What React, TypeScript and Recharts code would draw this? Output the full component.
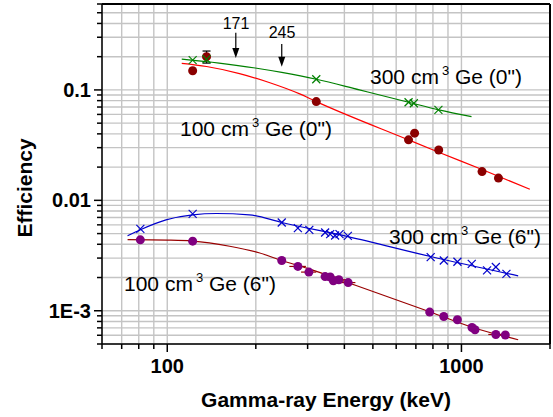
import React from 'react';
import { ComposedChart, Scatter, XAxis, YAxis, CartesianGrid, ReferenceLine, ErrorBar } from 'recharts';

// measured points
const e300at0 = [122, 136, 321, 661, 689, 835];
const eff300at0 = [0.186, 0.19, 0.125, 0.0774, 0.0758, 0.0659];

const e100at0 = [122, 136, 321, 661, 693, 837, 1175, 1336];
const eff100at0 = [0.149, 0.2, 0.0784, 0.0353, 0.0406, 0.0286, 0.0182, 0.0159];
const err100at0 = [0, 0.025, 0, 0, 0, 0, 0, 0];

const e300at6 = [81, 122, 245, 278, 304, 344, 358, 372, 385, 411, 786, 871, 969, 1084, 1222, 1309, 1422];
const eff300at6 = [0.00552, 0.00755, 0.0063, 0.0056, 0.0054, 0.00511, 0.00494, 0.0048, 0.00494, 0.00477, 0.00306, 0.00285, 0.00278, 0.00266, 0.00232, 0.00249, 0.00216];

const e100at6 = [81, 122, 245, 278, 303, 344, 358, 367, 383, 412, 780, 871, 969, 1086, 1112, 1309, 1410];
const eff100at6 = [0.00439, 0.00427, 0.00285, 0.00252, 0.00224, 0.00204, 0.00202, 0.00187, 0.00191, 0.0018, 0.000973, 0.000888, 0.000829, 0.000706, 0.000673, 0.00061, 0.000603];
const xerr100at6 = [0, 0, 0, 18, 18, 0, 20, 0, 22, 24, 0, 0, 0, 0, 0, 75, 0];

// fitted curves
const fitE300at0 = [112, 150, 199, 245, 321, 450, 661, 837, 1082];
const fitEff300at0 = [0.19, 0.175, 0.158, 0.144, 0.125, 0.1, 0.0774, 0.0659, 0.0573];

const fitE100at0 = [112, 136, 176, 222, 282, 321, 661, 837, 1175, 1708];
const fitEff100at0 = [0.174, 0.163, 0.1406, 0.1167, 0.092, 0.0784, 0.0353, 0.0273, 0.019, 0.0126];

const fitE300at6 = [73.3, 81.4, 99, 122, 147, 190, 245, 411, 786, 1559];
const fitEff300at6 = [0.00477, 0.00545, 0.00666, 0.0074, 0.0076, 0.0074, 0.0063, 0.0047, 0.0031, 0.00207];

const fitE100at6 = [73.3, 100, 122, 163, 205, 245, 300, 411, 780, 1100, 1559];
const fitEff100at6 = [0.0044, 0.00436, 0.00428, 0.00384, 0.00335, 0.00285, 0.00242, 0.0018, 0.00098, 0.000702, 0.000546];

const xTicks = [60, 70, 80, 90, 100, 200, 300, 400, 500, 600, 700, 800, 900, 1000, 2000];
const yTicks = [
  0.0005, 0.0006, 0.0007, 0.0008, 0.0009,
  0.001, 0.002, 0.003, 0.004, 0.005, 0.006, 0.007, 0.008, 0.009,
  0.01, 0.02, 0.03, 0.04, 0.05, 0.06, 0.07, 0.08, 0.09,
  0.1, 0.2, 0.3, 0.4, 0.5, 0.6,
];
const xLabels: Record<number, string> = { 100: '100', 1000: '1000' };
const yLabels: Record<number, string> = { 0.001: '1E-3', 0.01: '0.01', 0.1: '0.1' };

const FONT = '"Liberation Sans", Arial, sans-serif';

const pts = (xs: number[], ys: number[], extra?: Record<string, number[]>) =>
  xs.map((x, i) => {
    const p: any = { x, y: ys[i] };
    if (extra) Object.keys(extra).forEach((k) => (p[k] = extra[k][i]));
    return p;
  });

const XTick = ({ x, y, payload }: any) => {
  const label = xLabels[payload.value];
  return (
    <g>
      <line x1={x} y1={y} x2={x} y2={y + (label ? 8 : 5)} stroke="#000" strokeWidth={1.5} />
      {label && (
        <text x={x} y={y + 29} textAnchor="middle" fontFamily={FONT} fontWeight="bold" fontSize={20} fill="#000">
          {label}
        </text>
      )}
    </g>
  );
};

const YTick = ({ x, y, payload }: any) => {
  const label = yLabels[payload.value];
  return (
    <g>
      <line x1={x} y1={y} x2={x - (label ? 8 : 5)} y2={y} stroke="#000" strokeWidth={1.5} />
      {label && (
        <text x={x - 11} y={y + 7} textAnchor="end" fontFamily={FONT} fontWeight="bold" fontSize={20} fill="#000">
          {label}
        </text>
      )}
    </g>
  );
};

const Dot = (color: string) => (p: any) => <circle cx={p.cx} cy={p.cy} r={4.5} fill={color} />;
const Cross = (color: string) => (p: any) => (
  <g stroke={color} strokeWidth={1.2}>
    <line x1={p.cx - 4} y1={p.cy - 4} x2={p.cx + 4} y2={p.cy + 4} />
    <line x1={p.cx - 4} y1={p.cy + 4} x2={p.cx + 4} y2={p.cy - 4} />
  </g>
);
const NoShape = () => <g />;

const Arrow = (props: any) => {
  const { x1, y1, x2, y2 } = props;
  return (
    <g>
      <line x1={x1} y1={y1} x2={x2} y2={y2 - 8} stroke="#000" strokeWidth={1.2} />
      <path d={`M${x2 - 3.5},${y2 - 10} L${x2 + 3.5},${y2 - 10} L${x2},${y2} Z`} fill="#000" />
    </g>
  );
};

const SeriesLabel = ({ x, y, size, mode }: { x: number; y: number; size: string; mode: string }) => (
  <text x={x} y={y} fontFamily={FONT} fontSize={21} fill="#000">
    {size} cm
    <tspan dx={3} dy={-9} fontSize={13}>3</tspan>
    <tspan dy={9}>{` Ge (${mode}")`}</tspan>
  </text>
);

export default function App() {
  return (
    <div style={{ position: 'absolute', left: 0, top: 0, width: 553, height: 417, background: '#fff' }}>
      <ComposedChart width={553} height={417} margin={{ top: 4, right: 3, left: 0, bottom: 0 }}>
        <CartesianGrid stroke="#c4c4c4" strokeWidth={1.4} />
        <XAxis
          dataKey="x"
          type="number"
          scale="log"
          domain={[60, 2000]}
          allowDataOverflow
          ticks={xTicks}
          interval={0}
          height={73}
          tickSize={0}
          tickMargin={0}
          tickLine={false}
          axisLine={{ stroke: '#000', strokeWidth: 1.5 }}
          tick={<XTick />}
        />
        <YAxis
          dataKey="y"
          type="number"
          scale="log"
          domain={[0.0005, 0.6]}
          allowDataOverflow
          ticks={yTicks}
          interval={0}
          width={102}
          tickSize={0}
          tickMargin={0}
          tickLine={false}
          axisLine={{ stroke: '#000', strokeWidth: 1.5 }}
          tick={<YTick />}
        />
        <ReferenceLine y={0.6} stroke="#000" strokeWidth={2} />
        <ReferenceLine x={2000} stroke="#000" strokeWidth={2} />

        <Scatter data={pts(fitE300at0, fitEff300at0)} line={{ stroke: '#008000', strokeWidth: 1.2 }} lineJointType="monotoneX" shape={NoShape} isAnimationActive={false} />
        <Scatter data={pts(fitE100at0, fitEff100at0)} line={{ stroke: '#ff0000', strokeWidth: 1.2 }} lineJointType="monotoneX" shape={NoShape} isAnimationActive={false} />
        <Scatter data={pts(fitE300at6, fitEff300at6)} line={{ stroke: '#0000cc', strokeWidth: 1.2 }} lineJointType="monotoneX" shape={NoShape} isAnimationActive={false} />
        <Scatter data={pts(fitE100at6, fitEff100at6)} line={{ stroke: '#990000', strokeWidth: 1.2 }} lineJointType="monotoneX" shape={NoShape} isAnimationActive={false} />

        <Scatter data={pts(e100at0, eff100at0, { err: err100at0 })} shape={Dot('#8b0000')} isAnimationActive={false}>
          <ErrorBar dataKey="err" direction="y" width={4} stroke="#000" strokeWidth={1.2} />
        </Scatter>
        <Scatter data={pts(e300at0, eff300at0)} shape={Cross('#008000')} isAnimationActive={false} />
        <Scatter data={pts(e300at6, eff300at6)} shape={Cross('#0000cc')} isAnimationActive={false} />
        <Scatter data={pts(e100at6, eff100at6, { xerr: xerr100at6 })} shape={Dot('#800080')} isAnimationActive={false}>
          <ErrorBar dataKey="xerr" direction="x" width={0} stroke="#990000" strokeWidth={1.2} />
        </Scatter>

        <ReferenceLine segment={[{ x: 171, y: 0.33 }, { x: 171, y: 0.195 }]} shape={<Arrow />} />
        <ReferenceLine segment={[{ x: 245, y: 0.26 }, { x: 245, y: 0.162 }]} shape={<Arrow />} />
      </ComposedChart>

      <svg width={553} height={417} style={{ position: 'absolute', left: 0, top: 0, pointerEvents: 'none' }}>
        <text x={236} y={29} textAnchor="middle" fontFamily={FONT} fontSize={16}>171</text>
        <text x={282} y={38} textAnchor="middle" fontFamily={FONT} fontSize={16}>245</text>
        <SeriesLabel x={370} y={84} size="300" mode="0" />
        <SeriesLabel x={180} y={136} size="100" mode="0" />
        <SeriesLabel x={389} y={244} size="300" mode="6" />
        <SeriesLabel x={124} y={291} size="100" mode="6" />
        <text x={326} y={407} textAnchor="middle" fontFamily={FONT} fontWeight="bold" fontSize={21}>
          Gamma-ray Energy (keV)
        </text>
        <text x={32} y={188} textAnchor="middle" fontFamily={FONT} fontWeight="bold" fontSize={21} transform="rotate(-90 32 188)">
          Efficiency
        </text>
      </svg>
    </div>
  );
}
